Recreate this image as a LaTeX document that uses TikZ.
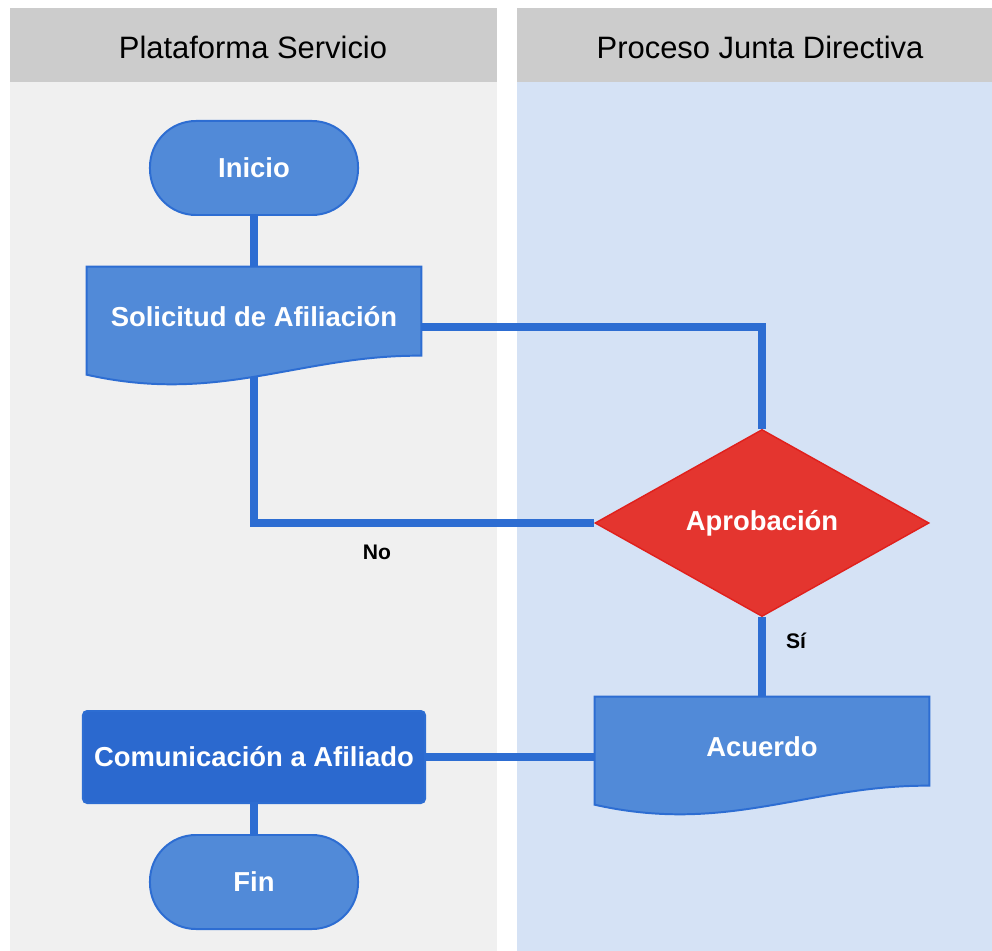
\documentclass[tikz,border=0pt]{standalone}
\usepackage{fontspec}
\setmainfont{Liberation Sans}
\usetikzlibrary{shapes.geometric,calc}
\pgfdeclarelayer{lanes}
\pgfdeclarelayer{links}
\pgfdeclarelayer{shapes}
\pgfsetlayers{lanes,links,shapes,main}
\definecolor{laneGray}{HTML}{CCCCCC}
\definecolor{laneLeft}{HTML}{F0F0F0}
\definecolor{laneRight}{HTML}{D5E2F5}
\definecolor{boxBlue}{HTML}{518AD8}
\definecolor{edgeBlue}{HTML}{2D6DD2}
\definecolor{darkBlue}{HTML}{2B69CF}
\definecolor{decRed}{HTML}{E4352F}
\definecolor{decEdge}{HTML}{E0201C}
\tikzset{
  boxfont/.style={text=white, font=\bfseries\fontsize{19.5}{23}\selectfont},
  terminal/.style={boxfont, draw=edgeBlue, fill=boxBlue, line width=1.4pt, rounded corners=1.15cm, minimum width=5.2cm, minimum height=2.35cm},
  docnode/.style={boxfont, minimum width=8.35cm, minimum height=2.5cm},
  decision/.style={boxfont, diamond, draw=decEdge, fill=decRed, line width=1pt, inner sep=0pt, minimum width=8.35cm, minimum height=4.675cm},
  process/.style={boxfont, draw=edgeBlue, fill=darkBlue, line width=1.4pt, rounded corners=3pt, minimum width=8.55cm, minimum height=2.3cm},
  link/.style={draw=edgeBlue, line width=5pt},
  lanehead/.style={font=\fontsize{22}{26}\selectfont},
  tag/.style={font=\bfseries\fontsize{15}{18}\selectfont}
}
\newcommand\docpath[1]{%
  \filldraw[draw=edgeBlue, fill=boxBlue, line width=1.4pt] (#1.north west) -- (#1.north east) -- ($(#1.north east)+(0,89)$)
    .. controls ($(#1.north east)+(-121,88)$) and ($(#1.north west)+(133,138)$) .. ($(#1.north west)+(0,108)$) -- cycle;}
\begin{document}
\begin{tikzpicture}[x=0.025cm, y=-0.025cm]
\useasboundingbox (0,0) rectangle (992,951);
\begin{pgfonlayer}{lanes}
\fill[white] (0,0) rectangle (992,951);
\fill[laneLeft] (10,82) rectangle (497,951);
\fill[laneGray] (10,8) rectangle (497,82);
\fill[laneRight] (517,82) rectangle (992,951);
\fill[laneGray] (517,8) rectangle (992,82);
\end{pgfonlayer}
\node[lanehead] (hplat) at (253,47) {Plataforma Servicio};
\node[lanehead] (hjunta) at (760,47) {Proceso Junta Directiva};

\node[terminal] (ini) at (254,168) {Inicio};
\node[docnode] (sol) at (254,317) {Solicitud de Afiliación};
\node[decision] (apr) at (762,523) {Aprobación};
\node[docnode] (acu) at (762,747) {Acuerdo};
\node[process] (com) at (254,757) {Comunicación a Afiliado};
\node[terminal] (fin) at (254,882) {Fin};
\node[tag] (no) at (377,552) {No};
\node[tag] (si) at (796,641) {Sí};

\begin{pgfonlayer}{shapes}
\docpath{sol}
\docpath{acu}
\end{pgfonlayer}
\begin{pgfonlayer}{links}
\draw[link] (ini) -- (sol);
\draw[link] ([yshift=-0.25cm]sol.east) -| (apr.north);
\draw[link] (sol.south) |- (apr.west);
\draw[link] (apr.south) -- (acu.north);
\draw[link] (acu.west |- com.east) -- (com.east);
\draw[link] (com) -- (fin);
\end{pgfonlayer}
\end{tikzpicture}
\end{document}
